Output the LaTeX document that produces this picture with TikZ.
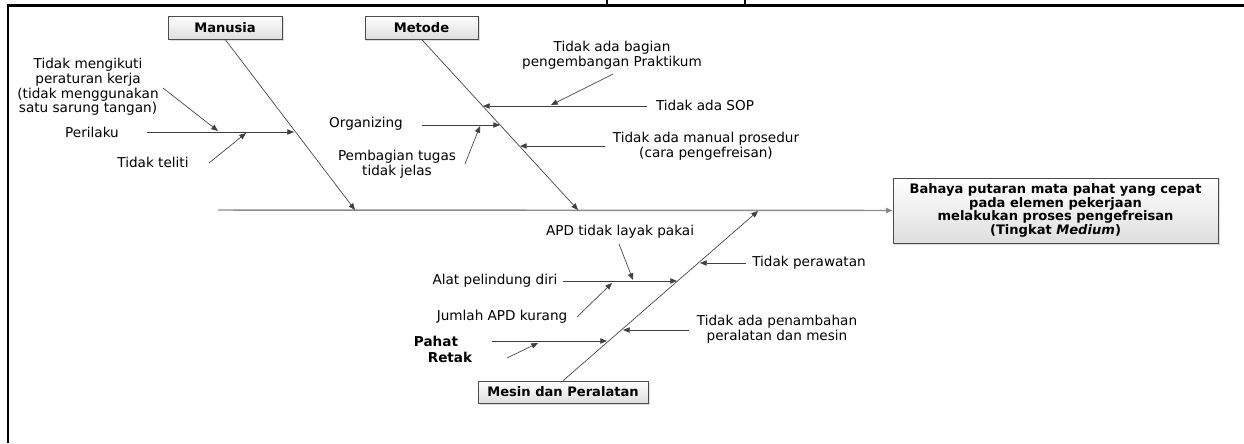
\documentclass[tikz,border=0pt]{standalone}
\usepackage{fontspec}
\setmainfont{DejaVu Sans}
\usepackage{tikz}
\usetikzlibrary{arrows.meta,shadows,positioning}

\begin{document}
\begin{tikzpicture}[x=0.75pt,y=-0.75pt,
font=\fontsize{10.2}{10.9}\selectfont,
cat/.style={draw=black!70, top color=white, bottom color=black!13, inner sep=0pt,
    drop shadow={opacity=0.25, shadow xshift=1.2pt, shadow yshift=-1.2pt},
    font=\fontsize{9.8}{10.2}\selectfont\bfseries, align=center},
txt/.style={align=center, inner sep=0pt},
bone/.style={draw=black!75, line width=0.5pt, -{Triangle[length=5pt,width=4pt]}},
spine/.style={draw=black!45, line width=1.1pt, -{Triangle[length=5pt,width=4pt,fill=black!75]}}]

   \useasboundingbox (0,0) rectangle (1244,443);

   % frame of the figure
   \draw [line width=2.2pt] (8,443) -- (8,5.5) -- (1244,5.5);
   \draw [line width=0.8pt] (607,0) -- (607,5) (745,0) -- (745,5);

   \begin{scope}
   \clip (9.6,7) rectangle (1244,443);

   % head and categories
   \node[cat, minimum width=244pt, minimum height=49pt] (effect) at (1055.5,210.5)
       {Bahaya putaran mata pahat yang cepat\\pada elemen pekerjaan\\melakukan proses pengefreisan\\(Tingkat \textit{Medium})};
   \node[cat, minimum width=85.5pt, minimum height=17.25pt] (manusia) at (225,27.5) {Manusia};
   \node[cat, minimum width=85pt, minimum height=17.25pt] (metode) at (421.5,27.5) {Metode};
   \node[cat, minimum width=127.5pt, minimum height=16.5pt] (mesin) at (563,392) {Mesin dan Peralatan};

   \coordinate (spine_s) at (218,210);
   \coordinate (manusia_t) at (355,210);
   \coordinate (metode_t) at (578,210);
   \coordinate (mesin_t) at (758,211);

   \path (spine_s) edge [spine] (effect.west);
   \path (manusia.south) edge [bone] (manusia_t)
         (metode.south) edge [bone] (metode_t)
         (mesin.north) edge [bone] (mesin_t);

   % Manusia
   \node[txt] (ikut) at (88,87) {Tidak mengikuti\\peraturan kerja\\(tidak menggunakan\\satu sarung tangan)};
   \node[txt] (perilaku) at (92,132) {Perilaku};
   \node[txt] (teliti) at (153,162) {Tidak teliti};

   \coordinate (perilaku_s) at (147,132);  \coordinate (perilaku_t) at (294,132);
   \coordinate (ikut_s) at (163,88);       \coordinate (ikut_t) at (218,131);
   \coordinate (teliti_s) at (209,163);    \coordinate (teliti_t) at (246,133);

   \path (perilaku_s) edge [bone] (perilaku_t)
         (ikut_s) edge [bone] (ikut_t)
         (teliti_s) edge [bone] (teliti_t);

   % Metode
   \node[txt] (bagian) at (612,55) {Tidak ada bagian\\pengembangan Praktikum};
   \node[txt] (sop) at (705,105) {Tidak ada SOP};
   \node[txt] (organizing) at (366,124) {Organizing};
   \node[txt] (pembagian) at (397,164) {Pembagian tugas\\tidak jelas};
   \node[txt] (manual) at (706,146.5) {Tidak ada manual prosedur\\(cara pengefreisan)};

   \coordinate (sop_s) at (647,106);       \coordinate (sop_t) at (483,106);
   \coordinate (bagian_s) at (613,74);     \coordinate (bagian_t) at (551,105);
   \coordinate (organizing_s) at (422,125); \coordinate (organizing_t) at (500,125);
   \coordinate (pembagian_s) at (465,164); \coordinate (pembagian_t) at (480,126);
   \coordinate (manual_s) at (605,146);    \coordinate (manual_t) at (520,146);

   \path (sop_s) edge [bone] (sop_t)
         (bagian_s) edge [bone] (bagian_t)
         (organizing_s) edge [bone] (organizing_t)
         (pembagian_s) edge [bone] (pembagian_t)
         (manual_s) edge [bone] (manual_t);

   % Mesin dan Peralatan
   \node[txt] (layak) at (620,232) {APD tidak layak pakai};
   \node[txt] (alat) at (495,281) {Alat pelindung diri};
   \node[txt] (jumlah) at (502,317) {Jumlah APD kurang};
   \node[txt] (rawat) at (809,263) {Tidak perawatan};
   \node[txt] (tambah) at (777,329) {Tidak ada penambahan\\peralatan dan mesin};
   \node[txt, font=\fontsize{10.2}{10.9}\selectfont\bfseries] (pahat) at (436,341) {Pahat};
   \node[txt, font=\fontsize{10.2}{10.9}\selectfont\bfseries] (retak) at (450,357) {Retak};

   \coordinate (alat_s) at (563,281);      \coordinate (alat_t) at (677,281);
   \coordinate (layak_s) at (619,244);     \coordinate (layak_t) at (633,280);
   \coordinate (jumlah_s) at (577,317);    \coordinate (jumlah_t) at (612,283);
   \coordinate (rawat_s) at (746,263);     \coordinate (rawat_t) at (700,263);
   \coordinate (tambah_s) at (689,330);    \coordinate (tambah_t) at (623,330);
   \coordinate (pahat_s) at (492,341);     \coordinate (pahat_t) at (607,341);
   \coordinate (retak_s) at (507,358);     \coordinate (retak_t) at (538,343);

   \path (alat_s) edge [bone] (alat_t)
         (layak_s) edge [bone] (layak_t)
         (jumlah_s) edge [bone] (jumlah_t)
         (rawat_s) edge [bone] (rawat_t)
         (tambah_s) edge [bone] (tambah_t)
         (pahat_s) edge [bone] (pahat_t)
         (retak_s) edge [bone] (retak_t);

   \end{scope}

\end{tikzpicture}
\end{document}
